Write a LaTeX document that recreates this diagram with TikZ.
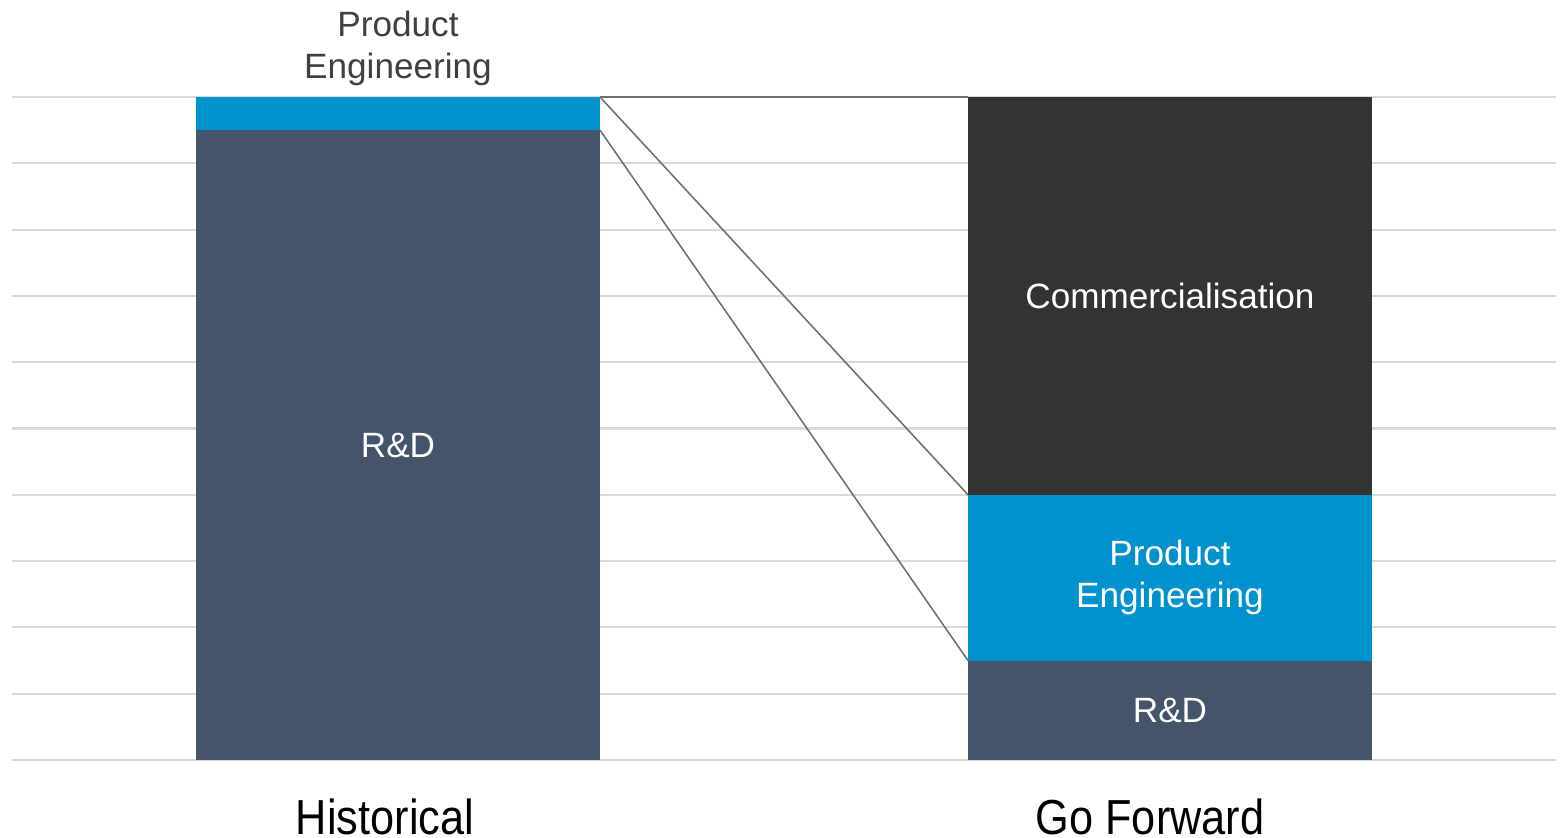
\documentclass[tikz,border=0pt]{standalone}
\usepackage{fontspec}
\setmainfont{Liberation Sans}
\newfontfamily\narrowfont[FakeStretch=0.88]{Liberation Sans}
\usetikzlibrary{positioning}
\definecolor{SplitBlue}{HTML}{0091CF}
\definecolor{SplitSlate}{HTML}{44546A}
\definecolor{SplitCharcoal}{HTML}{333333}
\definecolor{SplitGrid}{HTML}{D9D9D9}
\definecolor{SplitLink}{HTML}{707070}
\definecolor{SplitText}{HTML}{404040}

\begin{document}
\begin{tikzpicture}[
            y=0.663cm,
            seg/.style={rectangle, anchor=south west, inner sep=0pt, outer sep=0pt, minimum width=4.04cm, minimum height=#1*0.663cm, text=white, align=center, font=\fontsize{10}{12}\selectfont},
            gridline/.style={SplitGrid, line width=0.6pt},
            link/.style={SplitLink, line width=0.45pt},
            axislabel/.style={anchor=base, font=\narrowfont\fontsize{14}{16}\selectfont}
        ]
            \useasboundingbox (0cm,-0.78cm) rectangle (15.67cm,7.60cm);

            % Grid
            \foreach \i in {0,...,10}
                \draw[gridline] (0.12,\i) -- (15.56,\i);

            % Historical bar
            \node[seg=9.5, fill=SplitSlate] (histrd) at (1.96,0) {R\&D};
            \node[seg=0.5, fill=SplitBlue] (histpe) at (histrd.north west) {};
            \node[above=-0.01cm of histpe, align=center, text=SplitText, font=\fontsize{10}{12}\selectfont] (histpelbl) {Product\\Engineering};

            % Go forward bar
            \node[seg=1.5, fill=SplitSlate] (fwdrd) at (9.68,0) {R\&D};
            \node[seg=2.5, fill=SplitBlue] (fwdpe) at (fwdrd.north west) {Product\\Engineering};
            \node[seg=6, fill=SplitCharcoal] (fwdcom) at (fwdpe.north west) {Commercialisation};

            % Links
            \draw[link] (histpe.north east) -- (fwdcom.north west);
            \draw[link] (histpe.north east) -- (fwdcom.south west);
            \draw[link] (histpe.south east) -- (fwdpe.south west);

            % Labels
            \node[axislabel] (histlbl) at (3.85cm,-0.75cm) {Historical};
            \node[axislabel] (fwdlbl) at (11.50cm,-0.75cm) {Go Forward};
        \end{tikzpicture}
\end{document}
